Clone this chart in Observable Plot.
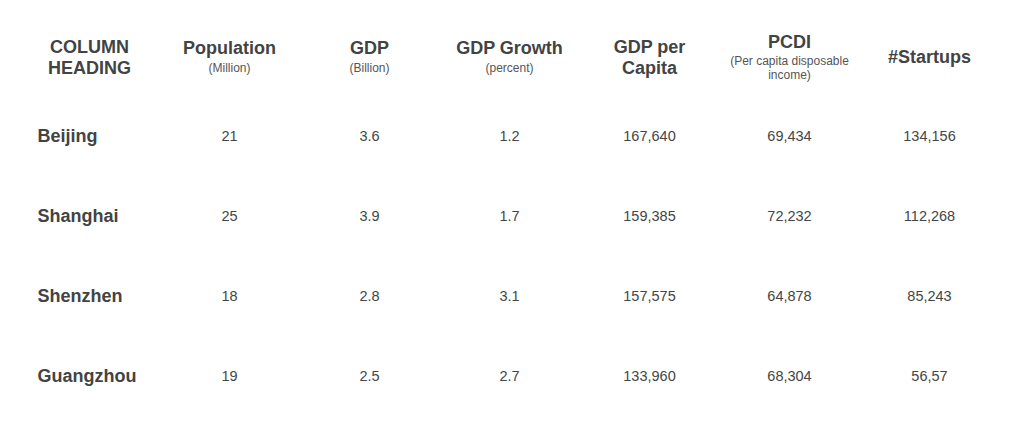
<!DOCTYPE html>
<html>
<head>
<meta charset="utf-8">
<script src="https://cdn.jsdelivr.net/npm/d3@7"></script>
<script src="https://cdn.jsdelivr.net/npm/@observablehq/plot@0.6"></script>
<style>
  html, body { margin: 0; padding: 0; background: #ffffff; }
  #chart svg { display: block; }
</style>
</head>
<body>
<div id="chart"></div>
<script>
// ---- Data ----
const columns = ["COLUMN\nHEADING", "Population", "GDP", "GDP Growth", "GDP per\nCapita", "PCDI", "#Startups"];
const subtitles = ["", "(Million)", "(Billion)", "(percent)", "", "(Per capita disposable\nincome)", ""];
const cities = ["Beijing", "Shanghai", "Shenzhen", "Guangzhou"];
const population = [21, 25, 18, 19];
const gdp = [3.6, 3.9, 2.8, 2.5];
const gdpGrowth = [1.2, 1.7, 3.1, 2.7];
const gdpPerCapita = [167640, 159385, 157575, 133960];
const pcdi = [69434, 72232, 64878, 68304];
const startups = ["134,156", "112,268", "85,243", "56,57"];

// ---- Build table ----
const fmtInt = d3.format("d");
const fmt1 = d3.format(".1f");
const fmtComma = d3.format(",d");
const series = [
  {col: columns[1], values: population, fmt: fmtInt},
  {col: columns[2], values: gdp, fmt: fmt1},
  {col: columns[3], values: gdpGrowth, fmt: fmt1},
  {col: columns[4], values: gdpPerCapita, fmt: fmtComma},
  {col: columns[5], values: pcdi, fmt: fmtComma},
  {col: columns[6], values: startups, fmt: d => d}
];
const cells = cities.flatMap((city, i) =>
  series.map(s => ({city, col: s.col, text: s.fmt(s.values[i])}))
);
const headers = columns.map((c, i) => ({
  col: c, title: c, sub: subtitles[i],
  subLines: subtitles[i] ? subtitles[i].split("\n").length : 0
}));
const rowLabels = cities.map(c => ({city: c, col: columns[0]}));

const FONT = "Liberation Sans, Arial, Helvetica, sans-serif";
const INK = "#434343";

const chart = Plot.plot({
  width: 1024,
  height: 435,
  margin: 0,
  style: {fontFamily: FONT, background: "#ffffff"},
  x: {type: "point", domain: columns, range: [88, 929], padding: 0, axis: null},
  y: {type: "point", domain: ["header", ...cities], range: [56, 376], padding: 0, axis: null},
  marks: [
    // headers without subtitle
    Plot.text(headers.filter(h => h.subLines === 0), {
      x: "col", y: () => "header", text: "title",
      fontSize: 18, fontWeight: "bold", fill: INK, lineHeight: 1.2, lineAnchor: "middle"
    }),
    // headers with single-line subtitle
    Plot.text(headers.filter(h => h.subLines === 1), {
      x: "col", y: () => "header", text: "title", dy: -8,
      fontSize: 18, fontWeight: "bold", fill: INK, lineAnchor: "middle"
    }),
    Plot.text(headers.filter(h => h.subLines === 1), {
      x: "col", y: () => "header", text: "sub", dy: 11.5,
      fontSize: 12, fill: "#555555", lineAnchor: "middle"
    }),
    // headers with two-line subtitle
    Plot.text(headers.filter(h => h.subLines === 2), {
      x: "col", y: () => "header", text: "title", dy: -14,
      fontSize: 18, fontWeight: "bold", fill: INK, lineAnchor: "middle"
    }),
    Plot.text(headers.filter(h => h.subLines === 2), {
      x: "col", y: () => "header", text: "sub", dy: 11, lineHeight: 1.17,
      fontSize: 12, fill: "#555555", lineAnchor: "middle"
    }),
    // row labels
    Plot.text(rowLabels, {
      x: "col", y: "city", text: "city", dx: -52, textAnchor: "start",
      fontSize: 18, fontWeight: "bold", fill: INK, lineAnchor: "middle"
    }),
    // values
    Plot.text(cells, {
      x: "col", y: "city", text: "text",
      fontSize: 14.5, fill: "#454545", lineAnchor: "middle"
    })
  ]
});
document.getElementById("chart").appendChild(chart);
</script>
</body>
</html>
